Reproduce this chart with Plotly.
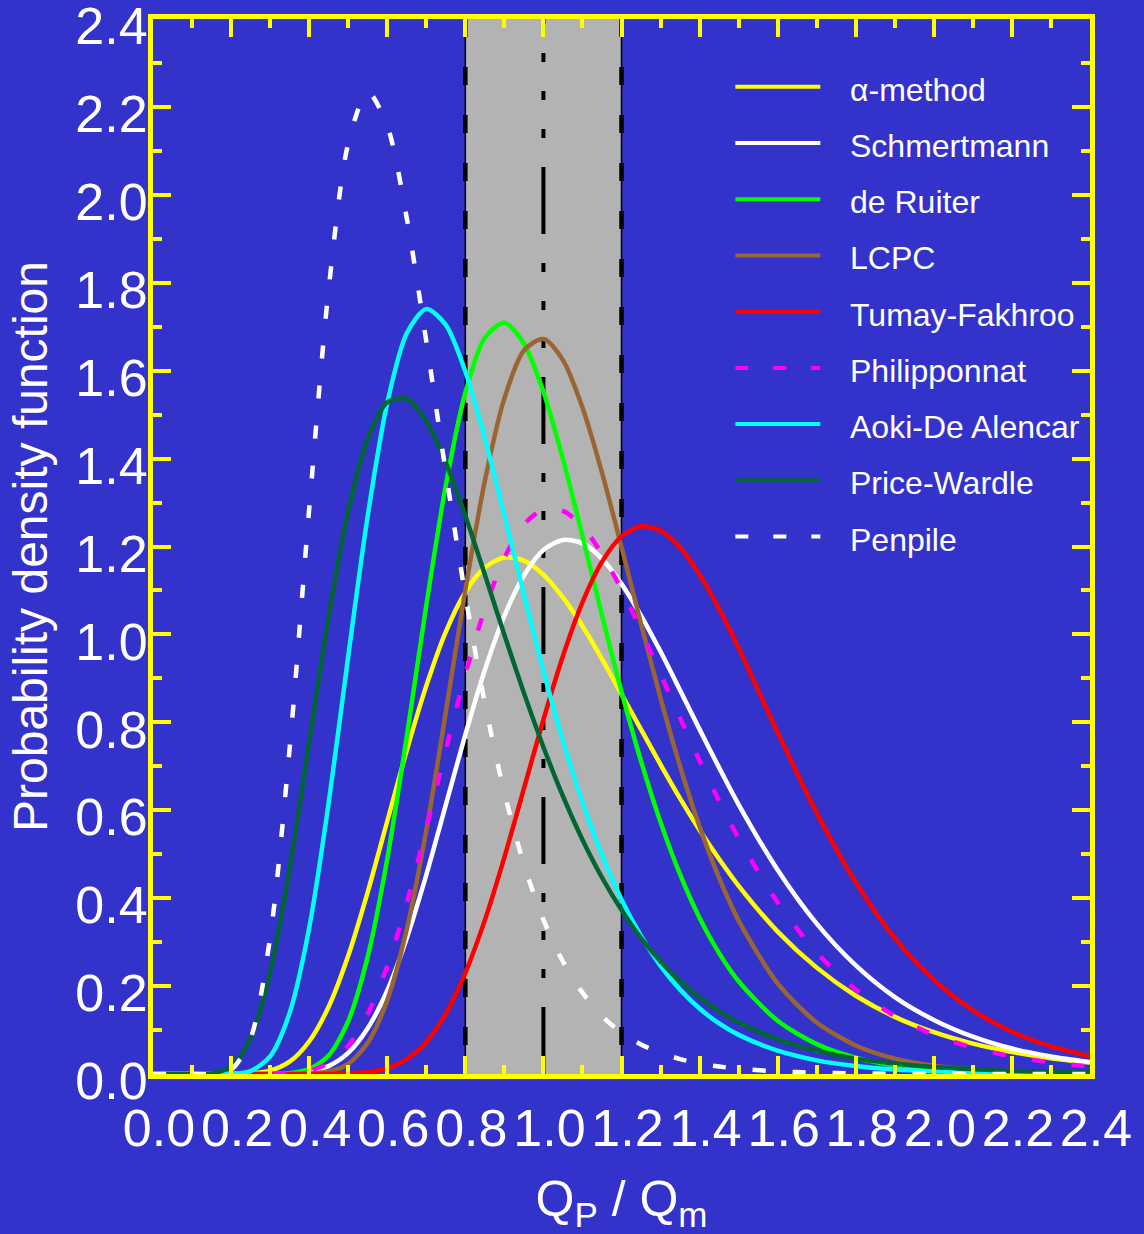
import plotly.graph_objects as go

# Pile capacity ratio Qp/Qm (shared abscissa for all density curves)
q_ratio = [0.00, 0.05, 0.10, 0.15, 0.20, 0.25, 0.30, 0.35, 0.40, 0.45,
           0.50, 0.55, 0.60, 0.65, 0.70, 0.75, 0.80, 0.85, 0.90, 0.95,
           1.00, 1.05, 1.10, 1.15, 1.20, 1.25, 1.30, 1.35, 1.40, 1.45,
           1.50, 1.60, 1.70, 1.80, 1.90, 2.00, 2.10, 2.20, 2.30, 2.40]

pdf_alpha = [0, 0, 0, 0, 0.0001, 0.0013, 0.0076, 0.028, 0.074, 0.153,
             0.269, 0.414, 0.575, 0.736, 0.883, 1.006, 1.096, 1.152, 1.175, 1.168,
             1.136, 1.084, 1.019, 0.944, 0.864, 0.784, 0.704, 0.627, 0.555, 0.489,
             0.428, 0.324, 0.242, 0.178, 0.130, 0.095, 0.069, 0.050, 0.036, 0.026]

pdf_schmertmann = [0, 0, 0, 0, 0, 0, 0.0001, 0.0011, 0.0053, 0.018,
                   0.048, 0.104, 0.190, 0.309, 0.453, 0.612, 0.772, 0.919, 1.042, 1.134,
                   1.192, 1.215, 1.207, 1.172, 1.115, 1.043, 0.961, 0.873, 0.784, 0.697,
                   0.613, 0.464, 0.342, 0.247, 0.175, 0.123, 0.085, 0.058, 0.040, 0.027]

pdf_deruiter = [0, 0, 0, 0, 0, 0, 0.0002, 0.0017, 0.011, 0.042,
                0.120, 0.267, 0.489, 0.768, 1.066, 1.339, 1.550, 1.675, 1.709, 1.662,
                1.552, 1.399, 1.224, 1.044, 0.870, 0.712, 0.573, 0.454, 0.355, 0.275,
                0.211, 0.121, 0.068, 0.037, 0.020, 0.011, 0.006, 0.003, 0.0016, 0.0008]

pdf_lcpc = [0, 0, 0, 0, 0, 0, 0, 0.0001, 0.0009, 0.0056,
            0.023, 0.071, 0.168, 0.329, 0.554, 0.823, 1.101, 1.349, 1.537, 1.646,
            1.672, 1.624, 1.516, 1.368, 1.199, 1.024, 0.855, 0.700, 0.563, 0.446,
            0.349, 0.206, 0.117, 0.065, 0.035, 0.019, 0.010, 0.005, 0.0026, 0.0013]

pdf_tumay = [0, 0, 0, 0, 0, 0, 0, 0, 0, 0.0002,
             0.0011, 0.0044, 0.0136, 0.034, 0.073, 0.137, 0.230, 0.350, 0.493, 0.649,
             0.806, 0.951, 1.073, 1.165, 1.223, 1.246, 1.236, 1.198, 1.136, 1.058,
             0.969, 0.777, 0.594, 0.436, 0.309, 0.214, 0.145, 0.096, 0.063, 0.041]

pdf_philipponnat = [0, 0, 0, 0, 0, 0, 0.0002, 0.0015, 0.0073, 0.025,
                    0.064, 0.136, 0.245, 0.389, 0.558, 0.737, 0.909, 1.058, 1.174, 1.250,
                    1.284, 1.281, 1.245, 1.183, 1.102, 1.009, 0.910, 0.810, 0.713, 0.621,
                    0.536, 0.390, 0.276, 0.192, 0.132, 0.089, 0.060, 0.040, 0.026, 0.017]

pdf_aoki = [0, 0, 0, 0, 0.0005, 0.0067, 0.040, 0.139, 0.332, 0.617,
            0.950, 1.270, 1.526, 1.685, 1.740, 1.704, 1.598, 1.446, 1.271, 1.091,
            0.917, 0.758, 0.618, 0.498, 0.397, 0.314, 0.246, 0.192, 0.149, 0.115,
            0.089, 0.053, 0.031, 0.018, 0.010, 0.006, 0.0035, 0.002, 0.0012, 0.0007]

pdf_price = [0, 0, 0, 0.0013, 0.0165, 0.081, 0.231, 0.468, 0.755, 1.041,
             1.280, 1.445, 1.528, 1.536, 1.485, 1.391, 1.270, 1.136, 0.999, 0.867,
             0.744, 0.632, 0.533, 0.447, 0.373, 0.309, 0.256, 0.211, 0.174, 0.143,
             0.117, 0.079, 0.053, 0.035, 0.024, 0.016, 0.011, 0.007, 0.005, 0.0034]

pdf_penpile = [0, 0, 0, 0.0003, 0.0096, 0.081, 0.311, 0.741, 1.285, 1.786,
               2.117, 2.234, 2.157, 1.947, 1.667, 1.369, 1.089, 0.844, 0.640, 0.477,
               0.351, 0.256, 0.185, 0.132, 0.094, 0.067, 0.048, 0.034, 0.024, 0.017,
               0.012, 0.006, 0.003, 0.0015, 0.0007, 0.0004, 0.0002, 0.0001, 0.0001, 0.0]

method_names = ["\u03b1-method", "Schmertmann", "de Ruiter", "LCPC", "Tumay-Fakhroo",
                "Philipponnat", "Aoki-De Alencar", "Price-Wardle", "Penpile"]
method_pdfs = [pdf_alpha, pdf_schmertmann, pdf_deruiter, pdf_lcpc, pdf_tumay,
               pdf_philipponnat, pdf_aoki, pdf_price, pdf_penpile]
method_colors = ["#FFFF00", "#FFFFFF", "#00FF00", "#996633", "#FF0000",
                 "#FF00FF", "#00FFFF", "#006633", "#FFFFFF"]
method_dashes = ["solid", "solid", "solid", "solid", "solid",
                 "13px,27px", "solid", "solid", "13px,27px"]

# Acceptance band and perfect-prediction reference
band_limits = [0.8, 1.2]
perfect_ratio = 1.0

x_ticks = [0.0, 0.2, 0.4, 0.6, 0.8, 1.0, 1.2, 1.4, 1.6, 1.8, 2.0, 2.2, 2.4]
y_ticks = [0.0, 0.2, 0.4, 0.6, 0.8, 1.0, 1.2, 1.4, 1.6, 1.8, 2.0, 2.2, 2.4]

BG = "#3333CC"
AXIS = "#FFFF00"
FONT = "Liberation Sans, Arial, sans-serif"

fig = go.Figure()

for name, ys, col, dash in zip(method_names, method_pdfs, method_colors, method_dashes):
    fig.add_trace(go.Scatter(
        x=q_ratio, y=ys, mode="lines", name=name, showlegend=False,
        line=dict(color=col, width=4.5, dash=dash, shape="spline", smoothing=0.8),
        hoverinfo="skip"))

# grey band between the limits
fig.add_shape(type="rect", xref="x", yref="y",
              x0=band_limits[0], x1=band_limits[1], y0=0, y1=2.4,
              fillcolor="#B3B3B3", line=dict(width=0), layer="below")
for xb in band_limits:
    fig.add_shape(type="line", xref="x", yref="y", x0=xb, x1=xb, y0=0, y1=2.4,
                  line=dict(color="black", width=1.5), layer="below")
    fig.add_shape(type="line", xref="x", yref="y", x0=xb, x1=xb, y0=2.4, y1=0,
                  line=dict(color="black", width=4.5, dash="18px,30px"), layer="below")
fig.add_shape(type="line", xref="x", yref="y", x0=perfect_ratio, x1=perfect_ratio,
              y0=0, y1=2.4, layer="below",
              line=dict(color="black", width=4,
                        dash="67px,29px,9px,29px,9px,29px,9px,29px"))

# legend drawn as line samples with labels
leg_x0, leg_x1, leg_tx = 0.6215, 0.7122, 0.7420
leg_top, leg_step = 0.9358, 0.0533
for i, (name, col, dash) in enumerate(zip(method_names, method_colors, method_dashes)):
    yy = leg_top - i * leg_step
    fig.add_shape(type="line", xref="paper", yref="paper",
                  x0=leg_x0, x1=leg_x1, y0=yy, y1=yy,
                  line=dict(color=col, width=4, dash=dash if dash == "solid" else "13px,25px"))
    fig.add_annotation(xref="paper", yref="paper", x=leg_tx, y=yy, yshift=-3,
                       text=name, showarrow=False, xanchor="left", yanchor="middle",
                       font=dict(family=FONT, size=32, color="white"))

axis_common = dict(
    showline=True, linecolor=AXIS, linewidth=5, mirror="allticks",
    ticks="inside", ticklen=18, tickwidth=4, tickcolor=AXIS,
    showgrid=False, zeroline=False, tickformat=".1f",
    ticklabeloverflow="allow", automargin=False,
    tickfont=dict(family=FONT, size=52, color="white"),
    minor=dict(ticks="inside", ticklen=9, tickwidth=4, tickcolor=AXIS, showgrid=False,
               dtick=0.1, tick0=0),
)

fig.update_xaxes(range=[0, 2.4], tickmode="array", tickvals=x_ticks,
                 ticklabelshift=6, ticklabelstandoff=5,
                 title=dict(text="Q<sub>P</sub> / Q<sub>m</sub>",
                            font=dict(family=FONT, size=50, color="white"), standoff=28),
                 **axis_common)
fig.update_yaxes(range=[0, 2.4], tickmode="array", tickvals=y_ticks,
                 ticklabelshift=7, ticklabelstandoff=-10,
                 title=dict(text="Probability density function",
                            font=dict(family=FONT, size=48, color="white"), standoff=14),
                 **axis_common)

fig.update_layout(
    width=1144, height=1234,
    paper_bgcolor=BG, plot_bgcolor=BG,
    margin=dict(l=153, r=54, t=19, b=160, autoexpand=False),
    font=dict(family=FONT, color="white"),
    showlegend=False,
)

fig.write_html("out.html")
